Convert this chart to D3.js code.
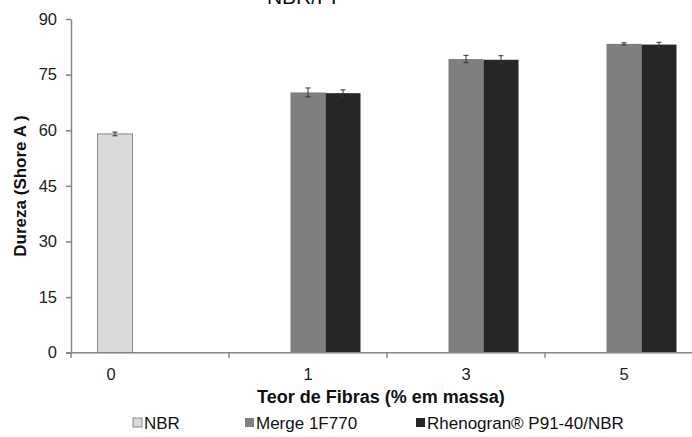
<!DOCTYPE html>
<html><head><meta charset="utf-8">
<script src="https://cdn.jsdelivr.net/npm/d3@7"></script>
<style>body{margin:0;background:#fff}svg{display:block}text{font-family:"Liberation Sans",Arial,sans-serif}</style>
</head><body><svg id="c" width="692" height="437"></svg>
<script>
const categories = ["0","1","3","5"];
const seriesNames = ["NBR","Merge 1F770","Rhenogran® P91-40/NBR"];
const seriesColors = ["#d9d9d9","#7f7f7f","#262626"];
const nbrValues = [59, null, null, null];
const nbrErrors = [0.5, null, null, null];
const mergeValues = [null, 70.2, 79.2, 83.3];
const mergeErrors = [null, 1.2, 1.0, 0.3];
const rhenoValues = [null, 70.0, 79.0, 83.1];
const rhenoErrors = [null, 0.9, 1.1, 0.6];
const yTicks = [0,15,30,45,60,75,90];
const titleText = "NBR/PP";
const xTitle = "Teor de Fibras (% em massa)";
const yTitle = "Dureza (Shore A )";

(function(){
const series = [
  {name: seriesNames[0], values: nbrValues, errors: nbrErrors, color: seriesColors[0]},
  {name: seriesNames[1], values: mergeValues, errors: mergeErrors, color: seriesColors[1]},
  {name: seriesNames[2], values: rhenoValues, errors: rhenoErrors, color: seriesColors[2]}
];

const svg = d3.select("#c");
const mL = 71, mR = 703, mT = 19, mB = 352.7;
const x = d3.scaleBand().domain(categories).range([mL, mR]).paddingInner(0).paddingOuter(0);
const xs = d3.scaleBand().domain(seriesNames).range([0, x.bandwidth()]).paddingInner(0).paddingOuter(0.757);
const y = d3.scaleLinear().domain([0, 90]).range([mB, mT]);
const axisColor = "#868686";

svg.append("text").attr("x", 306).attr("y", 4).attr("text-anchor","middle")
  .attr("font-size", 21).attr("fill","#111").text(titleText);

series.forEach(s => {
  const g = svg.append("g");
  const data = categories.map((c,i) => ({c, v: s.values[i], e: s.errors[i]})).filter(d => d.v != null);
  g.selectAll("rect").data(data).join("rect")
    .attr("x", d => x(d.c) + xs(s.name))
    .attr("width", xs.bandwidth())
    .attr("y", d => y(d.v))
    .attr("height", d => y(0) - y(d.v))
    .attr("fill", s.color)
    .attr("stroke", s.name === "NBR" ? "#8a8a8a" : "none")
    .attr("stroke-width", 1);
  const eg = g.selectAll("g.err").data(data).join("g").attr("class","err")
    .attr("stroke", "#333").attr("stroke-width", 1);
  const cx = d => x(d.c) + xs(s.name) + xs.bandwidth()/2;
  eg.append("line").attr("x1", cx).attr("x2", cx).attr("y1", d => y(d.v + d.e)).attr("y2", d => y(d.v - d.e));
  eg.append("line").attr("x1", d => cx(d) - 2.5).attr("x2", d => cx(d) + 2.5).attr("y1", d => y(d.v + d.e)).attr("y2", d => y(d.v + d.e));
  eg.append("line").attr("x1", d => cx(d) - 2.5).attr("x2", d => cx(d) + 2.5).attr("y1", d => y(d.v - d.e)).attr("y2", d => y(d.v - d.e));
});

const yAxis = svg.append("g").attr("transform", `translate(${mL},0)`)
  .call(d3.axisLeft(y).tickValues(yTicks).tickSize(5).tickSizeOuter(0).tickPadding(9));
yAxis.select(".domain").attr("stroke", axisColor).attr("stroke-width", 1.5);
yAxis.selectAll(".tick line").attr("stroke", axisColor).attr("stroke-width", 1.5);
yAxis.selectAll(".tick text").attr("font-size", 16.5).attr("fill", "#222").attr("font-family", "Liberation Sans, Arial, sans-serif");

const xAxis = svg.append("g").attr("transform", `translate(0,${mB})`);
xAxis.append("line").attr("x1", mL - 5).attr("x2", 692).attr("y1", 0).attr("y2", 0)
  .attr("stroke", axisColor).attr("stroke-width", 1.5);
xAxis.selectAll("line.tk").data(categories).join("line").attr("class","tk")
  .attr("x1", d => x(d)).attr("x2", d => x(d)).attr("y1", 0).attr("y2", 5)
  .attr("stroke", axisColor).attr("stroke-width", 1.5);
xAxis.selectAll("text.lbl").data(categories).join("text").attr("class","lbl")
  .attr("x", (d,i) => i === 0 ? x(d) + xs(seriesNames[0]) + xs.bandwidth()/2 - 4 : x(d) + x.bandwidth()/2)
  .attr("y", 27).attr("text-anchor","middle").attr("font-size", 16.5).attr("fill","#222").text(d => d);

svg.append("text").attr("x", 381).attr("y", 403).attr("text-anchor","middle")
  .attr("font-size", 18).attr("font-weight","bold").attr("fill","#111").text(xTitle);
svg.append("text").attr("transform", "translate(26,186) rotate(-90)").attr("text-anchor","middle")
  .attr("font-size", 17).attr("font-weight","bold").attr("fill","#111").text(yTitle);

const legendX = [133, 245, 416];
const lg = svg.append("g");
series.forEach((s,i) => {
  lg.append("rect").attr("x", legendX[i]).attr("y", 418).attr("width", 9).attr("height", 9)
    .attr("fill", s.color).attr("stroke", i === 0 ? "#8a8a8a" : "none");
  lg.append("text").attr("x", legendX[i] + 11).attr("y", 429).attr("font-size", 17).attr("fill","#111").text(s.name);
});
})();
</script></body></html>
